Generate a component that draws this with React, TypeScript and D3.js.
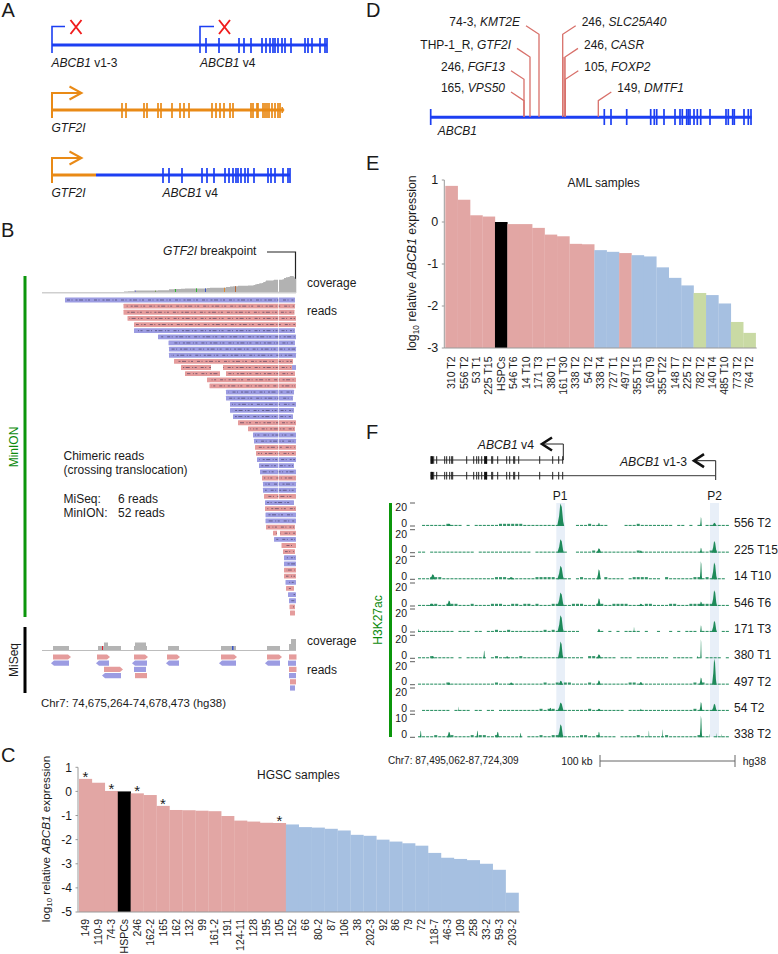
import React from "react";
import * as d3 from "d3";

const FONT = "'Liberation Sans', Arial, sans-serif";
const BLUE = "#1c3ff2";
const ORANGE = "#e98a16";
const READ_RED = "#e59c9c";
const READ_BLUE = "#9c9ce2";
const BAR_RED = "#e2a6a4";
const BAR_BLUE = "#a6c0e1";
const BAR_GREEN = "#c9daa4";
const SALMON = "#d8706a";
const GREEN = "#0b960b";
const PEAK = "#1e8a5a";

// ---------- Panel A ----------
const abcb1V4Exons = [154, 167, 187, 192, 199, 210, 214, 218, 221, 223, 226, 230, 233, 239, 253, 256, 260, 268, 273, 275];
const gtf2iExons = [70, 74, 92, 95, 106, 109, 120, 128, 132, 137, 160, 164, 168, 172, 178, 181, 199, 201, 205, 206, 211, 213, 215, 217, 220, 223, 226, 228];

// ---------- Panel B ----------
// [start, end, strand]
const minionReads: [number, number, string][] = [
  [65, 295, "b"], [123.5, 295, "r"], [123.5, 294.5, "r"], [127.5, 296, "r"], [134, 296, "r"], [134, 295, "b"],
  [158, 296, "b"], [168.5, 295, "b"], [169, 296, "b"], [169, 296, "b"], [174, 293, "r"], [181, 292, "r"],
  [185, 295, "r"], [207, 296, "r"], [209.5, 296, "r"], [226, 294, "b"], [226, 293, "b"], [230, 296, "b"],
  [230, 294, "b"], [233, 293, "b"], [238, 296, "r"], [248, 295, "r"], [253, 296, "b"], [254, 296, "b"],
  [255, 296, "r"], [256, 296, "r"], [257, 296, "b"], [259, 294, "b"], [260, 296, "b"], [262, 296, "r"],
  [263, 296, "b"], [263, 296, "b"], [264, 296, "r"], [265, 294, "b"], [265, 296, "r"], [265.5, 296, "b"],
  [265.5, 296, "b"], [266, 295, "r"], [273, 296, "r"], [274, 296, "b"], [281.5, 296, "r"], [283, 295, "r"],
  [284, 296, "b"], [284, 296, "b"], [284, 296, "r"], [284, 296, "r"], [285.5, 296, "b"], [286, 294, "r"],
  [288, 296, "b"], [289, 296, "b"], [289.5, 295, "r"], [290, 295, "r"],
];
// [row, from, to] white gaps inside reads
const readGaps: [number, number, number][] = [[11, 211, 223], [12, 220, 226], [38, 277, 280]];
const readSwitch: [number, number][] = [[11, 292]];
const coverageMarks: [number, string][] = [[135, "#7a7ad0"], [155, "#7a9a5a"], [175, "#2eb82e"], [196, "#2eb82e"], [205, "#3a55c8"], [224, "#e08a30"], [235, "#b8683a"]];

// [row, start, end, strand, pointed]
const miseqReads: [number, number, number, string, number][] = [
  [0, 53, 71, "r", 1], [0, 97, 110, "r", 1], [0, 134, 148, "r", 1], [0, 167, 180, "r", 1], [0, 221, 237, "r", 1], [0, 267, 282, "r", 1], [0, 289, 296.5, "r", 0],
  [1, 51, 69, "b", 1], [1, 96, 109, "b", 1], [1, 132, 147, "b", 1], [1, 166, 179, "b", 1], [1, 219, 236, "b", 1], [1, 265, 280, "b", 1], [1, 288, 296, "b", 0],
  [2, 104, 123, "r", 1], [2, 134, 146, "b", 0], [2, 289, 296.5, "r", 0],
  [3, 102, 121, "b", 1], [3, 135, 147, "r", 0], [3, 289, 296, "b", 0],
  [4, 290, 296, "r", 0], [5, 290, 295, "b", 0],
];
// [start, end, height]
const miseqCoverage: [number, number, number][] = [
  [53, 69, 4], [98, 121, 4], [104, 108, 7.5], [134, 147, 4], [135, 146, 7.5], [168, 179, 4], [221, 236, 4], [267, 280, 4], [289, 296, 6], [291, 296, 11],
];

// ---------- Panel C ----------
const hgscSamples = ["149", "110-9", "74-3", "HSPCs", "246", "162-2", "165", "162", "132", "99", "161-2", "191", "124-11", "128", "195", "105", "152", "66", "80-2", "87", "106", "38", "202-3", "92", "86", "79", "72", "118-7", "46-3", "109", "258", "33-2", "59-3", "203-2"];
const hgscValues = [0.52, 0.36, 0.02, 0, -0.08, -0.15, -0.6, -0.77, -0.78, -0.8, -0.82, -1.02, -1.21, -1.25, -1.3, -1.31, -1.37, -1.48, -1.5, -1.55, -1.62, -1.8, -1.84, -2.0, -2.08, -2.15, -2.25, -2.55, -2.75, -2.8, -2.85, -3.0, -3.25, -4.2];
const hgscGroup = ["r", "r", "r", "k", "r", "r", "r", "r", "r", "r", "r", "r", "r", "r", "r", "r", "b", "b", "b", "b", "b", "b", "b", "b", "b", "b", "b", "b", "b", "b", "b", "b", "b", "b"];
const hgscStars = ["149", "74-3", "246", "165", "105"];
const hgscTicks = [1, 0, -1, -2, -3, -4, -5];

// ---------- Panel D ----------
const dExons = [173.6, 180.3, 196, 220, 223.6, 226, 233.3, 244.3, 249.3, 251.6, 256, 257.6, 259.3, 263.3, 266.6, 270, 279.3, 295.3, 297.6, 302, 303.6, 313.3, 317.6, 320.3];
const dLabels = [
  { id: "74-3, ", gene: "KMT2E", pos: 108.3, side: "l", lane: 0 },
  { id: "THP-1_R, ", gene: "GTF2I", pos: 99.3, side: "l", lane: 1 },
  { id: "246, ", gene: "FGF13", pos: 93.3, side: "l", lane: 2 },
  { id: "165, ", gene: "VPS50", pos: 93.3, side: "l", lane: 3 },
  { id: "246, ", gene: "SLC25A40", pos: 132, side: "r", lane: 0 },
  { id: "246, ", gene: "CASR", pos: 134.3, side: "r", lane: 1 },
  { id: "105, ", gene: "FOXP2", pos: 134.6, side: "r", lane: 2 },
  { id: "149, ", gene: "DMTF1", pos: 167.6, side: "r2", lane: 3 },
];

// ---------- Panel E ----------
const amlSamples = ["310 T2", "556 T2", "53 T1", "225 T15", "HSPCs", "546 T6", "14 T10", "171 T3", "380 T1", "161 T30", "338 T2", "54 T2", "338 T4", "727 T1", "497 T2", "355 T15", "160 T9", "355 T22", "148 T7", "225 T2", "782 T2", "140 T4", "485 T10", "773 T2", "764 T2"];
const amlValues = [0.86, 0.53, 0.16, 0.13, 0, -0.05, -0.05, -0.14, -0.3, -0.34, -0.52, -0.53, -0.67, -0.71, -0.74, -0.79, -0.82, -1.08, -1.33, -1.51, -1.69, -1.74, -1.94, -2.38, -2.64];
const amlGroup = ["r", "r", "r", "r", "k", "r", "r", "r", "r", "r", "r", "r", "b", "b", "r", "b", "b", "b", "b", "b", "g", "b", "b", "g", "g"];
const amlTicks = [1, 0, -1, -2, -3];

// ---------- Panel F ----------
const fExons = [1, 3, 6, 14, 16, 19, 21, 22, 36, 43, 46, 48, 51, 54, 56, 61, 62, 67, 76, 79, 83, 84, 88, 109, 122, 128, 132];
const fThickExons = [1, 55];
const trackNames = ["556 T2", "225 T15", "14 T10", "546 T6", "171 T3", "380 T1", "497 T2", "54 T2", "338 T2"];
const trackBases = [526, 552.7, 579.3, 606, 632, 658.3, 684.7, 711, 737.3];
const trackMax = [20, 20, 20, 20, 20, 20, 20, 20, 10];
// [kb, value, half width in kb]
const trackPeaks: [number, number, number][][] = [
  [[23, 2, 2], [105.7, 20, 2.6], [134, 3, 1], [209.6, 8, 0.7], [219.5, 3, 2]],
  [[105.7, 12, 2.5], [134, 4, 2], [165, 2, 1.3], [209.6, 4.5, 1], [219.5, 10.5, 2]],
  [[10.9, 4.5, 2.3], [69, 2, 2.6], [105.7, 12, 2.5], [134, 9, 1.6], [209.6, 16, 0.9], [219.5, 15, 2.1]],
  [[10, 2, 2.6], [23, 5, 1.8], [105.7, 12, 2.5], [134, 7, 1.6], [165, 2, 2], [209.6, 4, 1.3], [219.5, 14, 2.1]],
  [[0.5, 3, 0.4], [105.7, 15, 2.4], [134, 3, 1.3], [160, 4.5, 0.4], [209.6, 6, 0.7], [219.5, 10, 2]],
  [[11, 2, 1.3], [49, 7, 0.7], [66, 2, 1.3], [105.7, 15, 2.1], [134, 3.5, 2], [207, 2, 0.7], [209.6, 17, 0.5]],
  [[23, 2, 1.3], [69, 2, 2], [105.7, 3.5, 2], [134, 4, 1.6], [165, 2.5, 1.7], [209.6, 6.5, 1.3], [219.5, 23, 1.7]],
  [[30, 4, 0.3], [98, 3, 1.3], [105.7, 7.5, 2.5], [134, 2, 2], [165, 2, 0.8], [209.6, 8, 1.2], [219.5, 6.5, 2]],
  [[2, 3, 0.7], [23, 2.5, 1.6], [44, 3, 0.8], [59, 2.5, 1.3], [76, 2, 0.7], [105.7, 5.8, 2.2], [134, 2.5, 1], [171, 3, 0.4], [181, 3.6, 0.4], [209.6, 9.6, 0.9], [216, 1.5, 0.3], [221, 1.8, 0.3], [225, 1.5, 0.3]],
];
// low signal per 3 kb bin, 77 bins per sample
const trackLow: number[][] = [
  [0, 1, 1, 1, 1, 1, 1, 2, 1, 1, 1, 0, 1, 0, 1, 1, 1, 1, 1, 1, 2, 2, 2, 2, 2, 2, 1, 1, 1, 1, 1, 1, 1, 1, 1, 0, 0, 0, 0, 1, 1, 1, 2, 1, 1, 1, 1, 0, 0, 0, 0, 1, 1, 1, 2, 1, 1, 1, 1, 1, 1, 1, 1, 0, 1, 1, 0, 1, 0, 1, 0, 1, 1, 0, 1, 1, 1],
  [1, 1, 0, 1, 1, 1, 1, 1, 1, 1, 1, 1, 1, 1, 0, 1, 1, 1, 1, 1, 1, 1, 1, 1, 1, 1, 1, 1, 0, 1, 1, 1, 1, 1, 1, 0, 1, 0, 0, 1, 1, 1, 1, 2, 1, 1, 1, 1, 1, 1, 1, 1, 1, 1, 2, 1, 1, 1, 1, 1, 1, 1, 1, 1, 1, 1, 1, 1, 1, 1, 1, 1, 2, 2, 1, 1, 1],
  [1, 1, 1, 2, 2, 2, 1, 1, 1, 1, 1, 1, 1, 1, 1, 1, 1, 1, 1, 2, 2, 2, 1, 1, 1, 1, 1, 1, 1, 2, 2, 2, 2, 2, 1, 0, 1, 1, 0, 1, 2, 1, 1, 1, 1, 0, 2, 1, 1, 1, 1, 0, 1, 2, 2, 2, 2, 1, 1, 1, 0, 2, 1, 1, 1, 1, 1, 1, 2, 2, 1, 2, 1, 1, 1, 1, 0],
  [1, 1, 1, 2, 2, 1, 1, 2, 2, 2, 1, 1, 1, 2, 1, 1, 1, 1, 2, 2, 2, 1, 1, 2, 2, 1, 2, 2, 1, 2, 1, 1, 1, 2, 2, 1, 1, 1, 2, 2, 2, 1, 1, 1, 2, 2, 1, 1, 2, 2, 2, 2, 1, 1, 1, 1, 2, 2, 1, 1, 1, 1, 2, 2, 1, 1, 1, 2, 2, 2, 2, 2, 2, 1, 1, 1, 1],
  [1, 1, 1, 1, 1, 1, 1, 1, 1, 0, 1, 1, 1, 0, 1, 1, 0, 1, 1, 2, 1, 1, 2, 1, 1, 1, 1, 1, 1, 1, 1, 2, 1, 2, 1, 1, 1, 1, 1, 1, 0, 0, 0, 0, 0, 1, 0, 1, 0, 1, 0, 1, 1, 1, 1, 0, 1, 0, 0, 1, 0, 0, 1, 0, 1, 0, 1, 1, 1, 0, 1, 1, 1, 0, 0, 1, 1],
  [1, 1, 1, 2, 1, 1, 1, 1, 1, 0, 1, 0, 1, 1, 1, 1, 1, 0, 1, 2, 1, 1, 1, 1, 1, 2, 1, 1, 1, 1, 1, 1, 1, 1, 1, 0, 1, 1, 1, 1, 1, 0, 2, 2, 1, 1, 1, 1, 1, 0, 1, 1, 1, 0, 1, 1, 1, 1, 1, 1, 1, 1, 0, 1, 1, 1, 1, 1, 0, 1, 0, 1, 1, 1, 1, 0, 1],
  [1, 1, 1, 1, 1, 1, 1, 2, 1, 1, 1, 1, 1, 1, 1, 1, 1, 1, 1, 2, 1, 1, 1, 1, 1, 1, 1, 1, 1, 1, 1, 2, 1, 1, 2, 1, 2, 2, 1, 1, 1, 1, 2, 1, 1, 1, 1, 1, 1, 1, 1, 1, 2, 2, 1, 1, 1, 1, 1, 1, 1, 1, 1, 1, 1, 1, 1, 1, 2, 1, 2, 1, 1, 1, 1, 1, 1],
  [0, 1, 1, 1, 1, 1, 1, 1, 0, 1, 1, 1, 1, 0, 1, 1, 0, 1, 1, 0, 1, 1, 1, 1, 1, 1, 1, 1, 1, 1, 2, 1, 2, 2, 1, 1, 1, 1, 1, 1, 1, 1, 2, 1, 1, 1, 1, 1, 1, 1, 1, 0, 1, 1, 1, 1, 1, 1, 1, 1, 1, 1, 1, 1, 1, 1, 1, 1, 2, 1, 1, 1, 1, 1, 1, 1, 1],
  [1, 1, 1, 1, 2, 1, 1, 1, 2, 1, 1, 1, 1, 2, 1, 2, 2, 1, 1, 2, 1, 1, 1, 1, 1, 1, 0, 1, 1, 1, 2, 1, 1, 2, 2, 1, 1, 1, 1, 1, 2, 2, 1, 1, 2, 1, 1, 1, 1, 0, 1, 1, 1, 1, 2, 1, 1, 1, 1, 1, 1, 2, 1, 1, 1, 1, 1, 1, 1, 2, 1, 1, 0, 1, 1, 1, 1],
];

// ---------- shared helpers ----------
const T = (p: any) => <text fontFamily={FONT} fill="#1a1a1a" {...p} />;
const I = (p: any) => <tspan fontStyle="italic" {...p} />;

function Exons({ exons, x, y1, y2, color, w = 1.7 }: any) {
  return (
    <g stroke={color} strokeWidth={w}>
      {exons.map((e: number, i: number) => <line key={i} x1={x(e)} x2={x(e)} y1={y1} y2={y2} />)}
    </g>
  );
}

function ArrowTSS({ x, top, bottom, tip, color }: any) {
  return (
    <path d={`M${x},${bottom}V${top}H${tip}M${tip - 12},${top - 6.5}L${tip},${top}L${tip - 12},${top + 6.5}`} fill="none" stroke={color} strokeWidth={2} />
  );
}

function Cross({ cx, cy }: any) {
  return <path d={`M${cx - 5.5},${cy - 7}L${cx + 5.5},${cy + 7}M${cx + 5.5},${cy - 7}L${cx - 5.5},${cy + 7}`} stroke="#f01c1c" strokeWidth={1.9} fill="none" />;
}

function PanelA() {
  const x = d3.scaleLinear([0, 275], [52, 327]);
  const shift = 37;
  const v4Start = 148;
  return (
    <g>
      <line x1={x(0)} x2={x(275)} y1={45} y2={45} stroke={BLUE} strokeWidth={3} />
      <path d={`M${x(0)},53V26.5H65`} fill="none" stroke={BLUE} strokeWidth={1.6} />
      <path d={`M${x(v4Start)},53V26.5H214`} fill="none" stroke={BLUE} strokeWidth={1.6} />
      <Exons exons={abcb1V4Exons} x={x} y1={38} y2={53} color={BLUE} />
      <Cross cx={76} cy={27} />
      <Cross cx={224.5} cy={27} />
      <T x={51.5} y={67} fontSize={12}><I>ABCB1</I> v1-3</T>
      <T x={200} y={67} fontSize={12}><I>ABCB1</I> v4</T>

      <line x1={x(0)} x2={x(231)} y1={110} y2={110} stroke={ORANGE} strokeWidth={3} />
      <path d={`M${x(230)},107L${x(232)},110L${x(230)},113Z`} fill={ORANGE} stroke={ORANGE} />
      <ArrowTSS x={x(0)} top={93} bottom={118} tip={81.5} color={ORANGE} />
      <Exons exons={gtf2iExons} x={x} y1={103} y2={118} color={ORANGE} />
      <T x={51.5} y={132} fontSize={12} fontStyle="italic">GTF2I</T>

      <line x1={x(44)} x2={x(275 - shift)} y1={175} y2={175} stroke={BLUE} strokeWidth={3} />
      <line x1={x(0)} x2={x(44)} y1={175} y2={175} stroke={ORANGE} strokeWidth={3} />
      <ArrowTSS x={x(0)} top={158} bottom={183} tip={81.5} color={ORANGE} />
      <Exons exons={[v4Start, ...abcb1V4Exons].map((e) => e - shift)} x={x} y1={168} y2={183} color={BLUE} />
      <T x={51.5} y={197} fontSize={12} fontStyle="italic">GTF2I</T>
      <T x={162.5} y={197} fontSize={12}><I>ABCB1</I> v4</T>
    </g>
  );
}

function PanelB() {
  const x = d3.scaleLinear([0, 296], [0, 296]);
  const rowY = d3.scaleLinear([0, 51], [300, 613]);
  const covY = d3.scaleLinear([0, 52], [292.5, 276]);
  const bins = d3.range(65, 297);
  const covCount = (p: number) => minionReads.filter(([s, e]) => s <= p && p < e + 1).length;
  const covArea = d3.area<number>().x((d) => x(d)).y0(292.5).y1((d) => covY(covCount(d) * (d === 278 ? 0.05 : 1))).curve(d3.curveStepAfter);
  const gaps = (row: number) => readGaps.filter((g) => g[0] === row);
  const miY = d3.scaleLinear([0, 5], [657, 688]);
  const readPath = (s: number, e: number, y: number, strand: string, pointed: number) => {
    const h = 2.6;
    if (!pointed) return `M${x(s)},${y - h}H${x(e)}V${y + h}H${x(s)}Z`;
    if (strand === "r") return `M${x(s)},${y - h}H${x(e) - 3}L${x(e)},${y}L${x(e) - 3},${y + h}H${x(s)}Z`;
    return `M${x(s) + 3},${y - h}H${x(e)}V${y + h}H${x(s) + 3}L${x(s)},${y}Z`;
  };
  return (
    <g>
      <T x={163} y={255} fontSize={12}><I>GTF2I</I> breakpoint</T>
      <path d="M267,252H295.5V293" fill="none" stroke="#222" strokeWidth={1.2} />
      <rect x={23.5} y={276} width={3} height={341} fill={GREEN} />
      <T transform="translate(17.5,447) rotate(-90)" fontSize={12} textAnchor="middle" fill="#0b8a0b">MinION</T>
      <path d={covArea(bins) || ""} fill="#b2b2b2" />
      {coverageMarks.map(([p, c], i) => <rect key={i} x={x(p)} y={covY(covCount(p))} width={1} height={292.5 - covY(covCount(p))} fill={c} />)}
      <line x1={42} x2={296} y1={292.8} y2={292.8} stroke="#cfcfcf" strokeWidth={1.5} />
      <T x={307} y={287} fontSize={12}>coverage</T>
      <T x={307} y={315} fontSize={12}>reads</T>
      {minionReads.map(([s, e, st], i) => {
        const y = rowY(i);
        const col = st === "r" ? READ_RED : READ_BLUE;
        return (
          <g key={i}>
            <rect x={x(s)} y={y - 2.4} width={x(e) - x(s)} height={4.8} fill={col} rx={0.5} />
            <line x1={x(s) + 2} x2={x(e) - 1} y1={y} y2={y} stroke="#2e2848" strokeWidth={1} strokeOpacity={0.55} strokeDasharray="3 1.5 1 3 2 1.5 4 2.5 1 1.5 2 4" strokeDashoffset={i * 3.3} />
            {gaps(i).map((g, j) => <rect key={j} x={x(g[1])} y={y - 3} width={x(g[2]) - x(g[1])} height={6} fill="#fff" />)}
            {readSwitch.filter((g) => g[0] === i).map((g, j) => <rect key={j} x={x(g[1])} y={y - 2.4} width={4} height={4.8} fill={READ_BLUE} />)}
          </g>
        );
      })}
      <line x1={278.5} x2={278.5} y1={297} y2={500} stroke="#fff" strokeWidth={0.8} strokeOpacity={0.8} />
      <T x={63.5} y={460} fontSize={12}>Chimeric reads</T>
      <T x={63.5} y={474} fontSize={12}>(crossing translocation)</T>
      <T x={63.5} y={503} fontSize={12}>MiSeq:</T>
      <T x={118} y={503} fontSize={12}>6 reads</T>
      <T x={63.5} y={517} fontSize={12}>MinION:</T>
      <T x={118} y={517} fontSize={12}>52 reads</T>

      <rect x={23.5} y={627} width={3} height={66} fill="#000" />
      <T transform="translate(18,660) rotate(-90)" fontSize={12} textAnchor="middle">MiSeq</T>
      {miseqCoverage.map(([s, e, h], i) => <rect key={i} x={x(s)} y={650 - h} width={x(e) - x(s)} height={h} fill="#b4b4b4" />)}
      <rect x={102} y={646} width={1} height={4} fill="#e02030" />
      <rect x={232} y={646} width={1.5} height={4} fill="#3a55c8" />
      <line x1={42} x2={296} y1={650.5} y2={650.5} stroke="#bdbdbd" strokeWidth={1} />
      <T x={307} y={645} fontSize={12}>coverage</T>
      <T x={307} y={674} fontSize={12}>reads</T>
      {miseqReads.map(([r, s, e, st, p], i) => <path key={i} d={readPath(s, e, miY(r), st, p)} fill={st === "r" ? READ_RED : READ_BLUE} />)}
      <T x={41} y={707} fontSize={11.4}>Chr7: 74,675,264-74,678,473 (hg38)</T>
    </g>
  );
}

function YLabel({ x, y, size }: any) {
  return (
    <T transform={`translate(${x},${y}) rotate(-90)`} fontSize={size} textAnchor="middle">
      log<tspan dy={2.5} fontSize={size * 0.68}>10</tspan><tspan dy={-2.5}> relative </tspan><I>ABCB1</I> expression
    </T>
  );
}

function BarPanel({ samples, values, group, ticks, left, right, top, bottom, domain, labelTop, labelSize, tickSize, stars }: any) {
  const x = d3.scaleBand<string>().domain(samples).range([left, right]);
  const y = d3.scaleLinear().domain(domain).range([top, bottom]);
  const bottomV = domain[1];
  const fillOf = (g: string) => (g === "r" ? BAR_RED : g === "b" ? BAR_BLUE : g === "g" ? BAR_GREEN : "#000");
  return (
    <g>
      {samples.map((s: string, i: number) => (
        <rect key={s} x={x(s)} y={y(values[i])} width={x.bandwidth() + 0.2} height={y(bottomV) - y(values[i])} fill={fillOf(group[i])} />
      ))}
      <line x1={left - 1} x2={left - 1} y1={top} y2={bottom} stroke="#9a9a9a" />
      <line x1={left - 1} x2={right + 1} y1={bottom} y2={bottom} stroke="#9a9a9a" />
      {ticks.map((t: number) => (
        <g key={t}>
          <line x1={left - 3.5} x2={left - 1} y1={y(t)} y2={y(t)} stroke="#9a9a9a" />
          <T x={left - 7} y={y(t) + 4.3} fontSize={tickSize} textAnchor="end">{t}</T>
        </g>
      ))}
      {samples.map((s: string) => (
        <T key={s} transform={`translate(${(x(s) as number) + x.bandwidth() / 2 + 3.7},${labelTop}) rotate(-90)`} fontSize={labelSize} textAnchor="end">{s}</T>
      ))}
      {(stars || []).map((s: string) => (
        <T key={s} x={(x(s) as number) + x.bandwidth() / 2} y={y(values[samples.indexOf(s)]) + 3} fontSize={15} textAnchor="middle">*</T>
      ))}
    </g>
  );
}

function PanelD() {
  const x = d3.scaleLinear([0, 321], [430.7, 751.7]);
  const laneY = d3.scaleOrdinal<number, number>().domain([0, 1, 2, 3]).range([25, 47.7, 70, 91.3]);
  return (
    <g>
      <rect x={x(132)} y={57} width={x(134.6) - x(132)} height={60} fill={SALMON} fillOpacity={0.55} />
      <line x1={x(0)} x2={x(321)} y1={117.3} y2={117.3} stroke={BLUE} strokeWidth={3} />
      <Exons exons={[0, ...dExons]} x={x} y1={109} y2={125} color={BLUE} />
      {dLabels.map((d, i) => {
        const px = x(d.pos);
        const ly = laneY(d.lane);
        const left = d.side === "l";
        const dir = left ? -1 : 1;
        const joinY = ly + 9.3;
        const elbowX = px + dir * 13;
        return (
          <g key={i}>
            <path d={`M${elbowX},${ly + 0.7}L${px},${joinY}V117`} fill="none" stroke={SALMON} strokeWidth={1.3} />
            <T x={left ? elbowX - 6 : elbowX + 6} y={ly + 1} fontSize={12} textAnchor={left ? "end" : "start"}>
              {d.id}<I>{d.gene}</I>
            </T>
          </g>
        );
      })}
      <T x={437.7} y={135} fontSize={12} fontStyle="italic">ABCB1</T>
    </g>
  );
}

function GeneModel({ x, y, endV }: any) {
  return (
    <g>
      <line x1={x(0)} x2={x(endV)} y1={y} y2={y} stroke="#222" strokeWidth={0.9} />
      <Exons exons={fExons} x={x} y1={y - 3.8} y2={y + 3.8} color="#222" w={1} />
      <Exons exons={fThickExons} x={x} y1={y - 3.8} y2={y + 3.8} color="#111" w={2.6} />
    </g>
  );
}

function PanelF() {
  const gx = d3.scaleLinear([0, 285], [430.7, 715.7]);
  const kb = d3.scaleLinear([0, 229.25], [418, 727.5]);
  const binKb = 3;
  return (
    <g>
      <GeneModel x={gx} y={460} endV={132.6} />
      <GeneModel x={gx} y={475.7} endV={285} />
      <line x1={gx(285)} x2={gx(285)} y1={475.7} y2={480} stroke="#222" strokeWidth={1} />
      <path d={`M${gx(132.6)},460V444H544`} fill="none" stroke="#222" strokeWidth={1} />
      <path d="M552,437.5L542,444L552,450.5" fill="none" stroke="#111" strokeWidth={2.6} />
      <T x={534} y={449} fontSize={12.2} textAnchor="end"><I>ABCB1</I> v4</T>
      <path d={`M${gx(285)},475.7V460.7H696`} fill="none" stroke="#222" strokeWidth={1} />
      <path d="M704,454.2L694,460.7L704,467.2" fill="none" stroke="#111" strokeWidth={2.6} />
      <T x={687} y={465.5} fontSize={12.2} textAnchor="end"><I>ABCB1</I> v1-3</T>
      <T x={560} y={500} fontSize={12} textAnchor="middle">P1</T>
      <T x={714.7} y={500} fontSize={12} textAnchor="middle">P2</T>
      <rect x={556.3} y={503} width={8.7} height={234} fill="#e8eff8" />
      <rect x={710} y={503} width={9} height={234} fill="#e8eff8" />
      <rect x={389} y={503} width={3} height={234} fill={GREEN} />
      <T transform="translate(382,620) rotate(-90)" fontSize={12} textAnchor="middle" fill="#0b8a0b">H3K27ac</T>

      {trackNames.map((name, i) => {
        const base = trackBases[i];
        const y = d3.scaleLinear([0, trackMax[i]], [base, base - 22.5]);
        const peakArea = d3.area<[number, number]>().x((d) => kb(d[0])).y0(base).y1((d) => y(d[1]));
        return (
          <g key={name}>
            {trackLow[i].map((v, b) => (v > 0 ? <rect key={b} x={kb(b * binKb)} y={base - v * 1.1} width={kb(binKb) - kb(0) - 1} height={v * 1.1} fill={PEAK} fillOpacity={0.9} /> : null))}
            {trackPeaks[i].map(([p, h, w], k) => (
              <path key={k} fill={PEAK} d={peakArea([[p - w, 0], [p - w * 0.45, h * 0.45], [p - w * 0.1, h], [p + w * 0.3, h * 0.85], [p + w * 0.7, h * 0.2], [p + w, 0]]) || ""} />
            ))}
            <line x1={410} x2={415} y1={base} y2={base} stroke="#333" strokeWidth={0.8} />
            <line x1={410} x2={415} y1={base - 23} y2={base - 23} stroke="#333" strokeWidth={0.8} />
            <T x={407} y={base + 0.5} fontSize={10.5} textAnchor="end">0</T>
            <T x={407} y={base - 15} fontSize={10.5} textAnchor="end">{trackMax[i]}</T>
            <T x={734} y={base + 1} fontSize={12}>{name}</T>
          </g>
        );
      })}
      <T x={388} y={764} fontSize={10}>Chr7: 87,495,062-87,724,309</T>
      <T x={592.7} y={764.5} fontSize={10.5} textAnchor="end">100 kb</T>
      <path d={`M${kb(0) + 182},755V767M${kb(0) + 182},761H${kb(0) + 317}M${kb(0) + 317},755V767`} fill="none" stroke="#666" strokeWidth={1} />
      <T x={742.7} y={764.5} fontSize={10.5}>hg38</T>
    </g>
  );
}

export default function App() {
  return (
    <svg width={778} height={954} viewBox="0 0 778 954" style={{ position: "absolute", left: 0, top: 0, background: "#fff" }}>
      <T x={1.5} y={17} fontSize={20}>A</T>
      <T x={1} y={237} fontSize={20}>B</T>
      <T x={1} y={762} fontSize={20}>C</T>
      <T x={366} y={17} fontSize={20}>D</T>
      <T x={366} y={170} fontSize={20}>E</T>
      <T x={366} y={439} fontSize={20}>F</T>

      <PanelA />
      <PanelB />
      <PanelD />
      <PanelF />

      <BarPanel samples={hgscSamples} values={hgscValues} group={hgscGroup} ticks={hgscTicks} left={79} right={518.6} top={767.3} bottom={912} domain={[1, -5]} labelTop={919} labelSize={10.5} tickSize={12} stars={hgscStars} />
      <YLabel x={49.5} y={839} size={11.7} />
      <T x={257} y={779} fontSize={12}>HGSC samples</T>

      <BarPanel samples={amlSamples} values={amlValues} group={amlGroup} ticks={amlTicks} left={445.3} right={755.7} top={180} bottom={348} domain={[1, -3]} labelTop={356.5} labelSize={10.5} tickSize={12.5} />
      <YLabel x={416} y={263} size={12.3} />
      <T x={567.5} y={187} fontSize={12}>AML samples</T>
    </svg>
  );
}
